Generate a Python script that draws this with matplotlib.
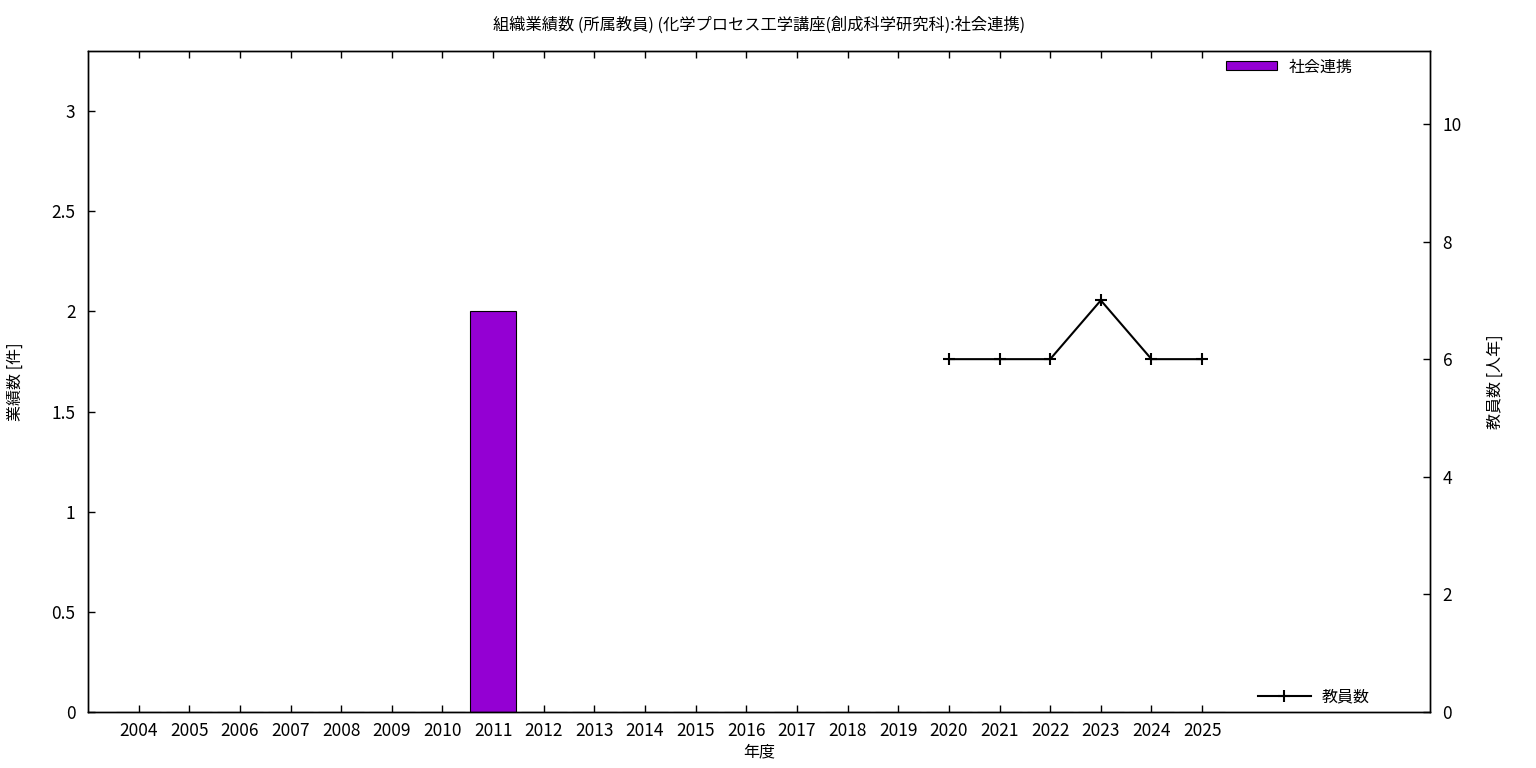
import matplotlib
matplotlib.use("Agg")
import matplotlib.pyplot as plt
import numpy as np

plt.rcParams['font.family'] = ['Noto Sans CJK JP', 'DejaVu Sans']

years = [str(y) for y in range(2004, 2026)]
bar_values = [0, 0, 0, 0, 0, 0, 0, 2, 0, 0, 0, 0, 0, 0, 0, 0, 0, 0, 0, 0, 0, 0]
line_years = ['2020', '2021', '2022', '2023', '2024', '2025']
line_values = [6, 6, 6, 7, 6, 6]

title = "組織業績数 (所属教員) (化学プロセス工学講座(創成科学研究科):社会連携)"
bar_label = "社会連携"
line_label = "教員数"

W, H = 1536, 768
fig = plt.figure(figsize=(15.36, 7.68), dpi=100)
ax = fig.add_axes([88/W, 1-712/H, (1430-88)/W, (712-51)/H])
ax2 = ax.twinx()

x = np.arange(len(years))
ax.bar(x, bar_values, width=0.9, color='#9400d3', edgecolor='black', linewidth=0.8, label=bar_label, zorder=2)

lx = [years.index(y) for y in line_years]
ax2.plot(lx, line_values, color='black', linewidth=1.5, marker='+', markersize=8, markeredgewidth=1.5, label=line_label)

ax.set_xlim(-1, 25.5)
ax.set_ylim(0, 3.3)
ax2.set_ylim(0, 11.24)

ax.set_xticks(x)
ax.set_xticklabels(years, fontsize=12.5)
ax.set_yticks([0, 0.5, 1, 1.5, 2, 2.5, 3])
ax.set_yticklabels(['0', '0.5', '1', '1.5', '2', '2.5', '3'], fontsize=12.5)
ax2.set_yticks([0, 2, 4, 6, 8, 10])
ax2.set_yticklabels(['0', '2', '4', '6', '8', '10'], fontsize=12.5)

ax.tick_params(axis='x', direction='in', length=5, width=1, top=True, pad=7)
ax.tick_params(axis='y', direction='in', length=5, width=1, pad=9)
ax2.tick_params(axis='y', direction='in', length=5, width=1, pad=9)

for a in (ax, ax2):
    for s in a.spines.values():
        s.set_linewidth(1)

ax.set_xlabel("年度", fontsize=11.5, labelpad=3)
ax.set_ylabel("業績数 [件]", fontsize=11.5, labelpad=20)
ax2.set_ylabel("教員数 [人年]", fontsize=11.5, labelpad=18)
fig.text(759/W, 1-25/H, title, ha='center', va='center', fontsize=11.7)

l1 = ax.legend(loc='center left', bbox_to_anchor=(1226/W, 1-67/H), bbox_transform=fig.transFigure,
               frameon=False, fontsize=11.5, borderpad=0, borderaxespad=0,
               handlelength=3.2, handleheight=0.5, handletextpad=0.7)
l2 = ax2.legend(loc='center left', bbox_to_anchor=(1258/W, 1-697/H), bbox_transform=fig.transFigure,
                frameon=False, fontsize=11.5, borderpad=0, borderaxespad=0,
                handlelength=3.3, handletextpad=0.7)

fig.savefig("out.png", dpi=100)
